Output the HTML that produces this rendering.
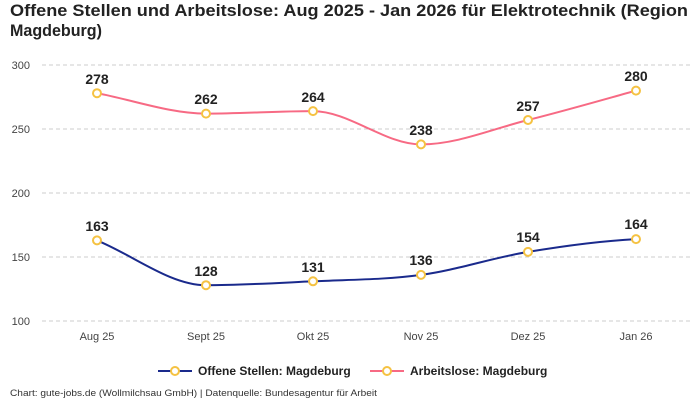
<!DOCTYPE html>
<html><head><meta charset="utf-8"><style>
body{margin:0;background:#fff;font-family:"Liberation Sans",sans-serif}
</style></head><body>
<svg width="700" height="400" xmlns="http://www.w3.org/2000/svg" font-family="Liberation Sans, sans-serif">
<text x="10" y="16" font-size="16.5" font-weight="bold" fill="#222" textLength="678" lengthAdjust="spacingAndGlyphs">Offene Stellen und Arbeitslose: Aug 2025 - Jan 2026 für Elektrotechnik (Region</text>
<text x="10" y="36" font-size="16.5" font-weight="bold" fill="#222" textLength="92" lengthAdjust="spacingAndGlyphs">Magdeburg)</text>
<g stroke="#ccc" stroke-dasharray="4,3" stroke-width="1">
<line x1="42" y1="65" x2="690" y2="65"/><line x1="42" y1="129" x2="690" y2="129"/>
<line x1="42" y1="193" x2="690" y2="193"/><line x1="42" y1="257" x2="690" y2="257"/>
<line x1="42" y1="321" x2="690" y2="321"/></g>
<g font-size="11" fill="#444" text-anchor="end">
<text x="30" y="69">300</text><text x="30" y="133">250</text><text x="30" y="197">200</text><text x="30" y="261">150</text><text x="30" y="325">100</text></g>
<g font-size="11" fill="#444" text-anchor="middle">
<text x="97" y="340">Aug 25</text><text x="206" y="340">Sept 25</text><text x="313" y="340">Okt 25</text><text x="421" y="340">Nov 25</text><text x="528" y="340">Dez 25</text><text x="636" y="340">Jan 26</text></g>
<path d="M97,240.4 C133,255 170,285.2 206,285.2 C242,285.2 277,283 313,281.3 C349,279.6 385,279.8 421,274.9 C457,270 492,257.9 528,251.9 C564,245.9 600,241 636,239.1" fill="none" stroke="#1a2a8c" stroke-width="2"/>
<path d="M97,93.2 C133,100 170,113.6 206,113.6 C242,113.6 277,111.1 313,111.1 C349,111.1 385,144.4 421,144.4 C457,144.4 492,129 528,120 C564,111 600,100.6 636,90.6" fill="none" stroke="#f76a84" stroke-width="2"/>
<g fill="#fff" stroke="#f5c242" stroke-width="2">
<circle cx="97" cy="240.4" r="4"/><circle cx="206" cy="285.2" r="4"/><circle cx="313" cy="281.3" r="4"/><circle cx="421" cy="274.9" r="4"/><circle cx="528" cy="251.9" r="4"/><circle cx="636" cy="239.1" r="4"/>
<circle cx="97" cy="93.2" r="4"/><circle cx="206" cy="113.6" r="4"/><circle cx="313" cy="111.1" r="4"/><circle cx="421" cy="144.4" r="4"/><circle cx="528" cy="120" r="4"/><circle cx="636" cy="90.6" r="4"/></g>
<g font-size="14" font-weight="bold" fill="#222" text-anchor="middle">
<text x="97" y="231">163</text><text x="206" y="276">128</text><text x="313" y="272">131</text><text x="421" y="265">136</text><text x="528" y="242">154</text><text x="636" y="229">164</text>
<text x="97" y="84">278</text><text x="206" y="104">262</text><text x="313" y="102">264</text><text x="421" y="135">238</text><text x="528" y="111">257</text><text x="636" y="81">280</text></g>
<line x1="158" y1="371" x2="192" y2="371" stroke="#1a2a8c" stroke-width="2"/>
<circle cx="175" cy="371" r="4" fill="#fff" stroke="#f5c242" stroke-width="2"/>
<text x="198" y="375" font-size="12" font-weight="bold" fill="#222">Offene Stellen: Magdeburg</text>
<line x1="370" y1="371" x2="404" y2="371" stroke="#f76a84" stroke-width="2"/>
<circle cx="387" cy="371" r="4" fill="#fff" stroke="#f5c242" stroke-width="2"/>
<text x="410" y="375" font-size="12" font-weight="bold" fill="#222">Arbeitslose: Magdeburg</text>
<text x="10" y="396" font-size="9.5" fill="#333" textLength="367" lengthAdjust="spacingAndGlyphs">Chart: gute-jobs.de (Wollmilchsau GmbH) | Datenquelle: Bundesagentur für Arbeit</text>
</svg>
</body></html>
